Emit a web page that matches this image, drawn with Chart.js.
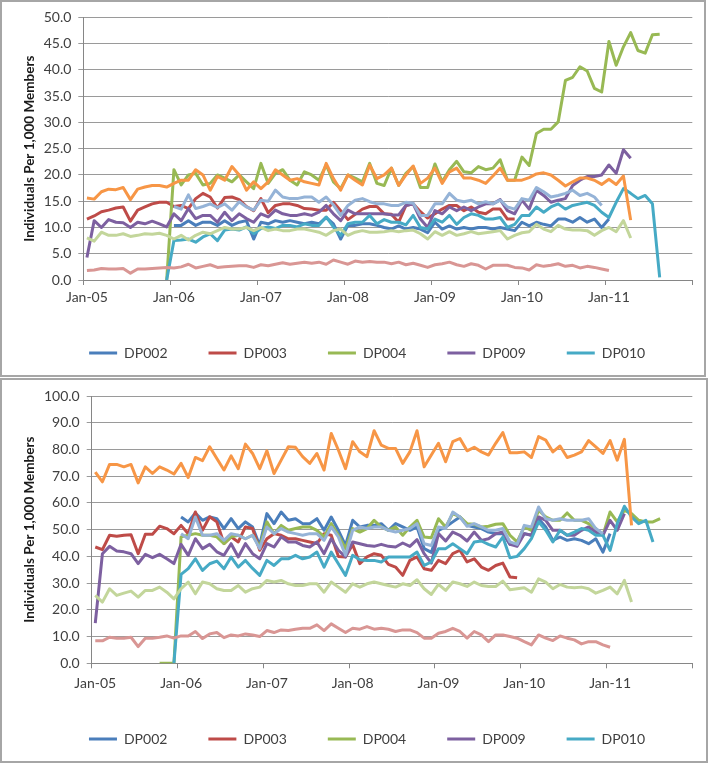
<!DOCTYPE html>
<html>
<head>
<meta charset="utf-8">
<script src="https://cdn.jsdelivr.net/npm/chart.js@4.4.1/dist/chart.umd.min.js"></script>
<style>
  body { margin: 0; background: #fff; }
  .box { position: absolute; left: 0; box-sizing: border-box; border: 2px solid #a6a6a6; background: #fff; }
  #topBox { top: 0; width: 706px; height: 377px; }
  #bottomBox { top: 378px; width: 708px; height: 385px; }
  canvas { display: block; }
</style>
</head>
<body>
<div class="box" id="topBox"><canvas id="topChart" width="702" height="373" style="width:702px;height:373px"></canvas></div>
<div class="box" id="bottomBox"><canvas id="bottomChart" width="704" height="381" style="width:704px;height:381px"></canvas></div>
<script>
// months Jan-05 .. Dec-11, one category per month
const years = ['05', '06', '07', '08', '09', '10', '11'];
const monthNames = ['Jan', 'Feb', 'Mar', 'Apr', 'May', 'Jun', 'Jul', 'Aug', 'Sep', 'Oct', 'Nov', 'Dec'];
const monthLabels = years.flatMap(y => monthNames.map(m => m + '-' + y));

const seriesNames = ['DP002', 'DP003', 'DP004', 'DP009', 'DP010', 'Series 6', 'Series 7', 'Series 8', 'Series 9'];
const seriesColors = ['#4A7EBB', '#BE4B48', '#98B954', '#7D60A0', '#46AAC5', '#F79646', '#95B3D7', '#D99694', '#C3D69B'];
const axisTitle = 'Individuals Per 1,000 Members';

// ---- top panel (first month index, then values) ----
const topDP002 = [12, [10.4, 10.4, 11.3, 10.4, 11.0, 11.0, 10.4, 11.3, 10.4, 11.0, 11.3, 7.8, 11.0, 10.7, 11.3, 11.0, 11.3, 11.0, 10.7, 11.0, 10.7, 11.9, 10.7, 7.8, 10.4, 10.4, 10.7, 10.7, 10.4,
  10.0, 9.7, 10.3, 9.7, 10.0, 9.7, 9.0, 11.0, 9.7, 10.3, 9.7, 10.0, 9.7, 10.0, 10.0, 9.7, 10.0, 9.7, 9.4, 11.0, 10.3, 11.0, 10.6, 10.3, 11.6, 11.6, 11.0, 11.9, 11.0, 11.6, 10.0, 11.6]];
const topDP003 = [0, [11.6, 12.2, 13.0, 13.3, 13.7, 13.9, 11.2, 13.3, 13.9, 14.5, 14.8, 14.8, 14.0, 14.2, 13.6, 15.5, 16.5, 15.8, 13.7, 15.7, 15.8, 15.3, 14.0, 13.2, 15.5, 12.8, 14.2, 14.5, 14.5, 14.2, 13.6, 13.5, 13.3, 13.3, 14.8, 13.2, 11.5, 12.5, 13.5, 14.0, 14.0,
  12.6, 12.5, 11.0, 14.2, 14.5, 13.0, 11.8, 12.6, 13.5, 14.2, 14.2, 13.2, 13.9, 12.9, 12.6, 13.5, 13.5, 11.6, 11.6]];
const topDP004 = [11, [0,
  21.0, 18.1, 20.0, 20.3, 18.1, 18.4, 20.0, 19.4, 18.7, 20.0, 18.7, 17.4, 22.2, 18.4, 20.3, 21.0, 19.0, 18.1, 20.6, 20.0, 19.0, 21.9, 18.7, 17.4, 20.0, 19.4, 18.7, 22.2, 18.4,
  18.0, 21.3, 18.0, 20.3, 21.6, 17.6, 17.6, 22.1, 18.7, 21.0, 22.6, 20.6, 20.4, 21.6, 21.0, 21.3, 22.9, 19.0, 19.0, 23.4, 21.8, 27.9, 28.7, 28.7, 30.1, 38.0, 38.6, 40.6, 39.8, 36.5, 35.8, 45.4, 40.9, 44.4, 47.1, 43.7, 43.2, 46.7, 46.8]];
const topDP009 = [0, [4.3, 11.3, 10.0, 11.5, 11.0, 10.9, 10.0, 11.0, 10.7, 11.2, 10.7, 10.1, 12.6, 11.3, 13.6, 11.7, 12.3, 12.3, 11.0, 12.9, 11.3, 12.6, 11.7, 11.0, 12.6, 12.0, 13.3, 12.6, 12.3, 12.3, 12.6, 12.3, 12.9, 14.2, 12.6, 11.3, 13.3, 12.6, 12.6, 12.6, 12.6,
  12.6, 12.4, 12.4, 14.2, 14.5, 11.6, 10.0, 13.2, 12.6, 13.9, 13.2, 13.9, 13.2, 13.9, 14.5, 14.5, 15.3, 13.2, 12.6, 15.2, 13.5, 17.1, 16.1, 14.8, 15.2, 15.5, 18.0, 19.0, 19.7, 19.7, 20.0, 21.9, 20.3, 24.8, 23.2]];
const topDP010 = [11, [0, 7.5, 7.6, 7.8, 7.2, 8.2, 8.8, 7.5, 9.5, 9.7, 9.5, 10.1, 8.8, 9.8, 10.1, 9.8, 10.4, 10.4, 10.1, 10.7, 10.4, 10.4, 12.0, 10.1, 8.5, 10.7, 11.0, 11.0, 12.3, 10.7,
  11.5, 11.0, 11.0, 10.5, 12.3, 10.0, 9.7, 11.6, 11.0, 12.3, 10.6, 11.9, 12.6, 12.3, 11.6, 11.6, 11.9, 10.0, 10.6, 12.3, 12.3, 13.9, 12.9, 13.9, 14.5, 13.5, 14.2, 14.5, 14.8, 14.2, 12.9, 11.9, 14.8, 17.4, 16.5, 15.5, 16.1, 14.5, 0.5]];
const topSeries6 = [0, [15.6, 15.4, 16.8, 17.3, 17.2, 17.6, 15.3, 17.3, 17.7, 18.0, 18.0, 17.7,
  18.4, 19.0, 19.0, 21.0, 20.0, 17.1, 19.7, 19.0, 21.6, 20.0, 17.1, 18.7, 17.4, 18.7, 21.0, 20.0, 19.0, 19.3, 18.7, 18.4, 18.1, 22.2, 19.3, 17.1, 20.0, 19.0, 18.1, 21.9, 19.3, 20.0,
  21.3, 18.0, 20.0, 21.7, 18.4, 19.4, 21.3, 18.4, 20.6, 21.3, 19.4, 19.4, 19.0, 18.4, 19.8, 21.3, 19.0, 19.0, 19.0, 19.5, 20.2, 20.4, 20.0, 19.0, 17.9, 18.7, 19.4, 19.4, 19.0, 18.2, 19.2, 18.2, 19.8, 11.4]];
const topSeries7 = [12, [14.0, 13.5, 16.2, 13.6, 14.0, 14.5, 13.8, 14.5, 13.3, 14.9, 13.9, 13.3, 15.2, 15.0, 17.1, 15.8, 15.5, 15.5, 15.8, 15.8, 14.8, 15.8, 14.3, 12.3, 14.2, 15.2, 15.5, 14.9, 14.5, 14.5,
  14.2, 14.2, 14.8, 14.6, 12.3, 12.3, 14.5, 14.5, 16.5, 15.2, 14.9, 15.2, 14.5, 14.9, 14.5, 15.2, 13.9, 13.5, 15.5, 15.2, 17.6, 16.8, 15.8, 16.1, 16.5, 17.1, 16.1, 16.5, 15.8, 14.2]];
const topSeries8 = [0, [1.8, 1.9, 2.2, 2.1, 2.1, 2.2, 1.3, 2.1, 2.1, 2.2, 2.3, 2.4, 2.3, 2.5, 3.0, 2.3, 2.6, 2.9, 2.4, 2.5, 2.6, 2.7, 2.7, 2.4, 2.9, 2.7, 3.0, 3.3, 3.0, 3.2, 3.4, 3.2, 3.4, 3.0, 3.8, 3.4, 3.0, 3.6, 3.4, 3.5, 3.4,
  3.4, 3.1, 3.4, 2.9, 3.2, 2.8, 2.4, 2.9, 3.1, 3.4, 2.9, 2.6, 3.1, 2.8, 2.1, 2.8, 2.8, 2.8, 2.4, 2.3, 1.9, 2.9, 2.6, 2.8, 3.1, 2.6, 2.8, 2.3, 2.6, 2.4, 2.1, 1.8]];
const topSeries9 = [0, [8.0, 7.4, 9.1, 8.5, 8.5, 8.8, 8.3, 8.5, 8.8, 8.7, 8.9, 8.5, 7.8, 8.5, 7.6, 8.5, 9.1, 8.8, 9.4, 10.0, 9.7, 9.7, 10.0, 9.4, 10.0, 9.4, 9.7, 9.4, 9.4, 9.7, 9.7, 9.4, 9.1, 8.5, 9.4, 9.7, 8.5, 9.1, 9.4, 9.1, 9.1,
  9.2, 9.4, 9.2, 9.4, 9.5, 8.8, 7.8, 9.2, 8.5, 9.2, 8.5, 8.8, 9.2, 8.8, 9.0, 9.2, 9.4, 7.8, 8.5, 9.0, 9.2, 10.6, 9.7, 9.2, 10.4, 9.7, 9.5, 9.5, 9.4, 8.5, 9.4, 10.0, 9.2, 11.3, 8.0]];

// ---- bottom panel ----
const botDP002 = [12, [54.75, 52.9, 56.25, 53.5, 54.75, 54.1, 50.4, 54.1, 50.4, 52.9, 51, 44.1, 56, 52.25, 56.6, 53.5, 54.1, 52.25, 52.25, 54.1, 49.75, 54.75, 49.75, 44.1, 53.5, 51, 51.6, 51.6, 52.25,
  49.75, 52.25, 51, 49.75, 51, 42.9, 41.5, 49.75, 51, 52.9, 54.75, 51.6, 51, 50.4, 49.1, 48.5, 48.5, 44.5, 44.75, 48.5, 47.9, 54.1, 51, 46, 47.25, 46, 46.6, 46, 44.75, 46.6, 41.6, 48.5]];
const botDP003 = [0, [43.5, 42.5, 47.9, 47.5, 47.9, 48.1, 41.0, 48.3, 48.3, 51.3, 50.4, 48.5, 51.6, 48.5, 56.6, 49.8, 54.8, 52.9, 44.8, 47.3, 45.4, 51.0, 50.4, 42.3,
  46.6, 48.5, 47.9, 46.6, 46.6, 46.0, 45.4, 44.8, 48.5, 47.9, 40.0, 39.8, 44.4, 37.3, 39.8, 41.0, 40.4,
  37.0, 36.0, 32.9, 38.5, 39.8, 35.4, 34.8, 38.5, 37.3, 41.0, 42.3, 37.9, 39.1, 36.0, 34.8, 36.6, 37.5, 32.3, 32.0]];
const botDP004 = [9, [0, 0, 0,
  47.3, 47.9, 48.5, 47.9, 47.9, 47.3, 44.75, 47.3, 47.9, 46.6, 47.9, 43.5, 52.9, 48.5, 51.6, 49.75, 50.4, 51, 51, 49.75, 47.3, 52.25, 47.9, 42.9, 50.4, 49.1, 50.4, 53.5, 51,
  49.75, 51, 47.9, 51, 53.5, 47.25, 47, 54.1, 51, 56, 54.75, 52.25, 52, 51, 51.25, 52, 52.25, 47.9, 45.4, 51, 49.75, 57.25, 54.75, 53.5, 53.5, 56.25, 53.5, 53.5, 52.25, 50.4, 47.9, 56.6, 52.9, 57.25, 56, 53.5, 52.9, 52.9, 54.1]];
const botDP009 = [0, [15, 41, 43.75, 42, 41.7, 41, 37.3, 40.75, 39.5, 40.75, 39.1, 37.3, 44.5, 40.4, 46.6, 42.9, 44.5, 41.7, 40.4, 44.75, 39.8, 44.75, 41, 39.1, 44.8, 43.5, 47.3, 45.4, 45.4, 44.1, 43.5, 45.4, 41, 46.6, 42.3, 39.8, 45.4, 44.75, 44.1, 43.75, 44.5,
  43.75, 43.5, 45, 43.75, 46.25, 41, 37.5, 48.5, 45.75, 49.1, 47.9, 45.75, 49.1, 46, 46.6, 48.5, 49.1, 44.5, 43.75, 48.5, 47.9, 54.75, 53.5, 49.75, 49.75, 47.9, 47.9, 49.75, 51, 49.1, 47.9, 53.5, 49.75, 56]];
const botDP010 = [11, [0,
  33.25, 35.4, 39.1, 34.75, 37.25, 38.25, 35.4, 39.75, 36, 38.5, 35.5, 32.9, 38.5, 36.6, 39.1, 39.1, 40.4, 39.1, 39.75, 41.6, 36, 41.6, 37.25, 32.9, 40.4, 38.75, 38.5, 38.5, 37.9,
  39.75, 39.75, 39.75, 39.75, 41.6, 36.6, 37.9, 42.9, 42.9, 44.75, 42.9, 41, 45.4, 45.75, 44.5, 43.5, 47.25, 39.5, 40, 42.9, 46.6, 52.9, 49.75, 45.4, 49.75, 47.9, 49.1, 50.4, 49.75, 47.9, 47.9, 42.25, 52.25, 58.75, 54.75, 52.25, 53.5, 45.4]];
const botSeries6 = [0, [71.5, 67.9, 74.4, 74.4, 73.5, 74.4, 67.5, 73.5, 71.0, 73.5, 72.3, 70.8, 74.8, 69.5, 77.0, 75.8, 81.0, 76.6, 72.3, 77.6, 72.8, 82.0, 78.5, 72.8, 79.5, 71.0, 76.0, 81.0, 80.8, 77.3, 74.8, 78.5, 72.3, 86.0, 79.8, 72.8, 82.9, 79.1, 77.3, 87.0, 81.6,
  80.4, 80.4, 74.8, 79.1, 87.0, 73.5, 77.9, 82.3, 75.4, 82.9, 84.1, 79.5, 80.8, 79.1, 77.9, 82.3, 86.3, 78.8, 78.8, 79.1, 77.0, 84.8, 83.5, 79.1, 81.3, 77.0, 77.9, 79.1, 83.3, 81.0, 78.5, 83.3, 76.0, 83.8, 51.6]];
const botSeries7 = [12, [48.5, 46.6, 54.75, 47.9, 47.9, 48.5, 46, 48.5, 47.9, 46.6, 47.9, 42.9, 51, 48.5, 50.4, 49.1, 48.5, 47.9, 48.5, 48.5, 46, 51, 47.25, 40.4, 49.75, 51, 50.4, 51, 51,
  49.75, 49.1, 49.75, 50.4, 52.25, 44.75, 44.1, 51, 50.4, 56.6, 54.75, 51.25, 52.25, 51, 49.75, 49.75, 50.4, 45.4, 44.5, 51.6, 51, 58.5, 54.1, 53.5, 54.1, 53.5, 53.5, 53.5, 54.1, 50.4, 48.5]];
const botSeries8 = [0, [8.4, 8.4, 9.75, 9.4, 9.4, 9.75, 6.25, 9.4, 9.4, 9.75, 10.25, 9.4, 10.25, 10.25, 11.9, 9.25, 11, 11.5, 9.6, 10.6, 10.25, 11, 10.6, 10, 12.25, 11.5, 12.5, 12.25, 12.75, 13.1, 13.1, 14.4, 12.25, 14.75, 13.1, 11.5,
  13.1, 12.75, 13.75, 12.75, 13.1, 12.75, 11.9, 12.5, 12.5, 11.5, 9.4, 9.4, 11.25, 11.9, 13.1, 11.9, 9.4, 11.9, 10.6, 8.1, 10.6, 10.6, 10, 9.4, 8.1, 6.9, 10.6, 9.4, 8.5, 10.25, 9.4, 8.75, 7.25, 8.1, 8.1, 6.9, 6.0]];
const botSeries9 = [0, [25.4, 22.9, 27.9, 25.4, 26.25, 27, 24.75, 27.25, 27.25, 28.5, 26.6, 24.1, 27.9, 30.4, 26, 30.4, 29.75, 27.9, 27.25, 27.25, 29.1, 26.6, 27.9, 28.5, 31, 30.4, 31, 29.75, 29.1, 29.1, 29.75, 29.75, 26.6, 30.4, 28.5, 26.6, 29.75, 28.5, 29.75, 30.4, 29.75,
  29.1, 28.5, 29.75, 29.1, 31.25, 27.9, 25.75, 29.5, 27.25, 30.4, 29.75, 28.75, 30.4, 29.1, 28.75, 28.75, 30.75, 27.5, 27.9, 28.25, 26.6, 31.6, 30.4, 27.9, 29.5, 28.5, 28.25, 28.5, 27.9, 26.25, 27.25, 28.5, 26, 31, 22.9]];

const topSeries = [topDP002, topDP003, topDP004, topDP009, topDP010, topSeries6, topSeries7, topSeries8, topSeries9];
const bottomSeries = [botDP002, botDP003, botDP004, botDP009, botDP010, botSeries6, botSeries7, botSeries8, botSeries9];

// place a run of monthly values on the full month axis
function fromMonth(start, values) {
    const out = new Array(monthLabels.length).fill(null);
    values.forEach((v, i) => { out[start + i] = v; });
    return out;
}

Chart.defaults.font.family = 'Lato, "Open Sans", sans-serif';
Chart.defaults.font.size = 14;
Chart.defaults.color = '#404040';

const gridGray = '#9a9a9a';
const axisGray = '#868686';

function makeChart(canvasId, series, yMax, yStep, geo) {
    const datasets = series.map(([start, values], i) => ({
        label: seriesNames[i],
        data: fromMonth(start, values),
        borderColor: seriesColors[i],
        backgroundColor: seriesColors[i],
        borderWidth: 3,
        pointRadius: 0,
        pointHoverRadius: 0,
        tension: 0,
        borderJoinStyle: 'round',
        spanGaps: false,
        order: -i   // later series drawn on top, like the original
    }));

    return new Chart(document.getElementById(canvasId), {
        type: 'line',
        data: { labels: monthLabels, datasets },
        options: {
            responsive: false,
            animation: false,
            layout: { padding: { left: geo.left, right: geo.right, top: geo.top, bottom: 5 } },
            plugins: {
                tooltip: { enabled: false },
                legend: {
                    position: 'bottom',
                    labels: {
                        usePointStyle: true,
                        pointStyle: 'line',
                        pointStyleWidth: 28,
                        padding: 41,
                        color: '#404040',
                        filter: item => item.datasetIndex < 5,
                        sort: (a, b) => a.datasetIndex - b.datasetIndex
                    }
                }
            },
            scales: {
                x: {
                    offset: true,
                    afterFit: scale => { scale.height = geo.xHeight; },
                    border: { color: axisGray, width: 1 },
                    grid: {
                        offset: true,
                        drawOnChartArea: false,
                        drawTicks: true,
                        tickLength: 5,
                        color: ctx => (ctx.index === undefined || ctx.index % 12 === 0) ? axisGray : 'rgba(0,0,0,0)'
                    },
                    ticks: {
                        autoSkip: false,
                        maxRotation: 0,
                        minRotation: 0,
                        padding: geo.xPad,
                        callback: (v, i) => (i % 12 === 0 ? monthLabels[i] : '')
                    }
                },
                y: {
                    min: 0,
                    max: yMax,
                    afterFit: scale => { scale.width = geo.yWidth; },
                    border: { color: axisGray, width: 1 },
                    grid: { color: gridGray, tickLength: 5 },
                    ticks: {
                        stepSize: yStep,
                        padding: geo.yPad,
                        callback: v => v.toFixed(1)
                    },
                    title: {
                        display: true,
                        text: axisTitle,
                        color: '#1a1a1a',
                        font: { size: 13.5, weight: 'bold' },
                        padding: { top: geo.titlePad, bottom: 0 }
                    }
                }
            }
        }
    });
}

makeChart('topChart', topSeries, 50, 5,
    { left: 40, right: 11.7, top: 15, xHeight: 25, xPad: 4, yWidth: 41.3, yPad: 7, titlePad: -20.1 });
makeChart('bottomChart', bottomSeries, 100, 10,
    { left: 39.7, right: 13.7, top: 16, xHeight: 27.7, xPad: 6.5, yWidth: 50, yPad: 7, titlePad: -19.8 });
</script>
</body>
</html>
